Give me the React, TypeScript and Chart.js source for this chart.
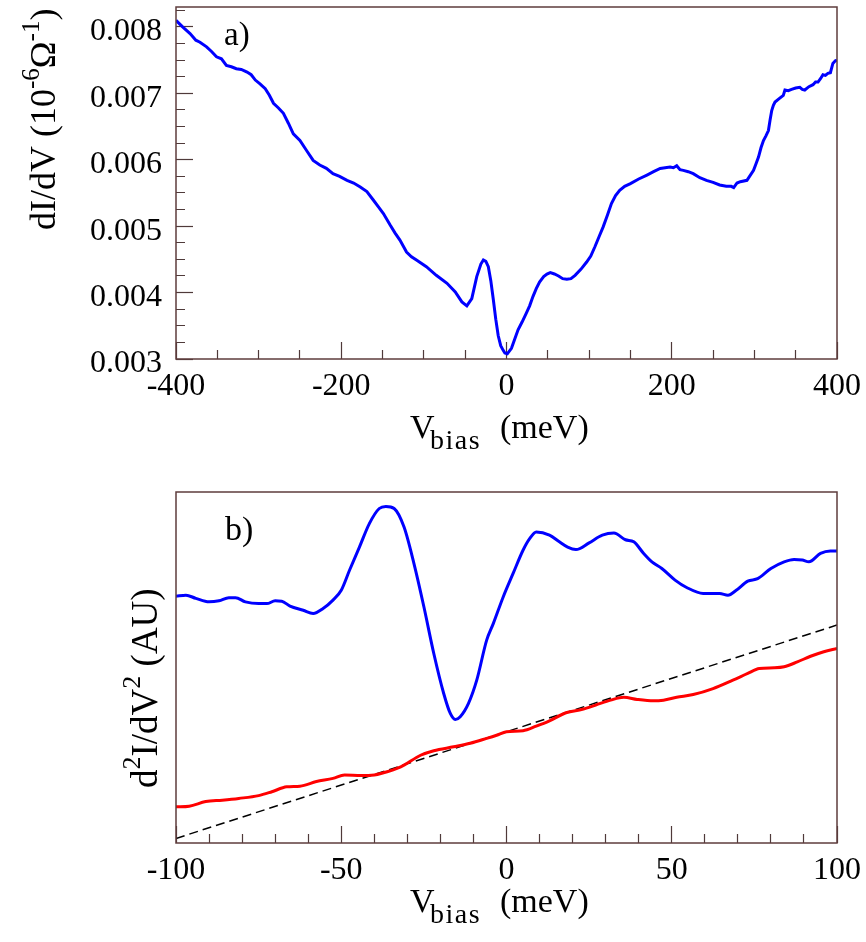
import React, { useEffect, useRef } from 'react';
import { Chart, registerables } from 'chart.js';

Chart.register(...registerables);

const FONT = "'Liberation Serif', 'Times New Roman', serif";
const FRAME_COLOR = '#5e3c3c';
const TICK_COLOR = '#4f3a3a';

// ---------- Panel a: dI/dV vs V_bias ----------
const A_BIAS = [-400, -392, -383, -376, -371, -363, -357, -351, -345, -339, -333, -327, -321, -314, -309, -304, -298, -292, -287, -282, -276, -270, -264, -258, -250, -242, -234, -226, -218, -210, -202, -193, -185, -177, -169, -161, -155, -149, -141, -135, -129, -121, -115, -109, -97, -85, -72, -62, -54, -48, -42, -36, -31, -28, -25, -22, -19, -16, -13, -10, -7, -4, -2, 1, 3, 6, 10, 14, 19, 24, 28, 32, 36, 40, 45, 49, 53, 58, 63, 68, 73, 78, 83, 90, 97, 102, 107, 112, 117, 122, 127, 132, 137, 143, 150, 160, 170, 178, 186, 192, 198, 202, 206, 210, 214, 220, 226, 234, 242, 250, 258, 266, 272, 275, 279, 283, 291, 299, 302, 305, 308, 311, 314, 317, 319, 321, 323, 325, 330, 335, 337, 341, 345, 350, 355, 358, 361, 366, 371, 374, 377, 380, 383, 386, 389, 392, 395, 398, 400];
const A_DIDV = [0.00810, 0.00800, 0.00790, 0.00780, 0.00777, 0.00770, 0.00763, 0.00755, 0.00752, 0.00742, 0.00740, 0.00737, 0.00736, 0.00732, 0.00728, 0.00720, 0.00714, 0.00707, 0.00697, 0.00685, 0.00678, 0.00670, 0.00655, 0.00639, 0.00629, 0.00614, 0.00599, 0.00592, 0.00587, 0.00579, 0.00575, 0.00569, 0.00565, 0.00559, 0.00552, 0.00539, 0.00529, 0.00519, 0.00502, 0.00490, 0.00479, 0.00461, 0.00454, 0.00449, 0.00439, 0.00426, 0.00414, 0.00401, 0.00386, 0.00380, 0.00391, 0.00424, 0.00443, 0.00449, 0.00447, 0.00439, 0.00418, 0.00390, 0.00360, 0.00335, 0.00320, 0.00313, 0.00309, 0.00308, 0.00311, 0.00316, 0.00330, 0.00344, 0.00356, 0.00369, 0.00380, 0.00394, 0.00406, 0.00416, 0.00424, 0.00428, 0.00430, 0.00428, 0.00425, 0.00421, 0.00420, 0.00421, 0.00426, 0.00435, 0.00446, 0.00455, 0.00469, 0.00484, 0.00499, 0.00516, 0.00534, 0.00546, 0.00554, 0.00560, 0.00564, 0.00571, 0.00577, 0.00582, 0.00587, 0.00588, 0.00589, 0.00588, 0.00591, 0.00585, 0.00584, 0.00582, 0.00579, 0.00573, 0.00569, 0.00566, 0.00562, 0.00560, 0.00560, 0.00558, 0.00565, 0.00567, 0.00569, 0.00584, 0.00594, 0.00604, 0.00618, 0.00629, 0.00636, 0.00644, 0.00660, 0.00674, 0.00682, 0.00687, 0.00692, 0.00697, 0.00705, 0.00704, 0.00706, 0.00708, 0.00709, 0.00706, 0.00705, 0.00710, 0.00713, 0.00717, 0.00717, 0.00722, 0.00728, 0.00727, 0.00730, 0.00731, 0.00745, 0.00749, 0.00750];

const A_X_TICKS = [-400, -350, -300, -250, -200, -150, -100, -50, 0, 50, 100, 150, 200, 250, 300, 350, 400];
const A_X_LABELS = [-400, -200, 0, 200, 400];
const A_Y_TICKS = [0.003, 0.00325, 0.0035, 0.00375, 0.004, 0.00425, 0.0045, 0.00475, 0.005, 0.00525, 0.0055, 0.00575, 0.006, 0.00625, 0.0065, 0.00675, 0.007, 0.00725, 0.0075, 0.00775, 0.008, 0.00825];
const A_Y_LABELS = [0.003, 0.004, 0.005, 0.006, 0.007, 0.008];

// ---------- Panel b: d2I/dV2 vs V_bias ----------
const B_BIAS_BLUE = [-100, -97, -94, -90, -87, -84, -82, -79, -75, -72.5, -70, -68, -65.5, -61.5, -58.5, -55.5, -52.5, -50, -47.5, -44.5, -41.5, -38.5, -36.5, -34, -31, -28, -25, -22, -19, -17, -15.5, -14, -11.5, -9, -6, -4, -1, 2, 5, 7, 9, 13, 16, 18.5, 21, 25, 29, 32.5, 36, 38.5, 41.5, 44, 47, 51, 54.5, 59.5, 64.5, 67, 69.5, 73, 76, 80, 84, 87, 89.5, 91.5, 95, 98, 100];
const B_BLUE = [70.3, 70.6, 69.7, 68.7, 69.0, 69.9, 69.9, 68.7, 68.2, 68.2, 69.0, 68.9, 67.5, 66.3, 65.4, 66.8, 69.2, 72.0, 77.7, 84.3, 91.0, 95.3, 95.9, 95.3, 90.0, 79.6, 67.3, 54.0, 42.6, 36.9, 35.2, 36.0, 39.8, 46.4, 57.8, 62.5, 70.1, 76.8, 83.4, 86.7, 88.6, 87.7, 85.8, 84.3, 83.6, 85.5, 87.7, 88.3, 86.4, 85.8, 82.5, 80.1, 78.2, 74.9, 72.8, 71.1, 71.1, 70.6, 72.0, 74.6, 75.3, 78.2, 80.1, 80.8, 80.6, 80.1, 82.5, 83.2, 83.2];

const B_BIAS_RED = [-100, -96, -91, -86, -81, -75, -71, -66.5, -62.5, -57.5, -52.5, -49, -44, -40, -38, -32, -26, -22, -16, -11, -6, -3, 0, 5, 9, 13, 18, 23, 27, 31.5, 35.5, 39.5, 44.5, 47.5, 51.5, 56.5, 62.5, 68.5, 73, 76.5, 81, 84, 88, 92, 96, 100];
const B_RED = [10.3, 10.5, 11.8, 12.2, 12.7, 13.5, 14.6, 16.0, 16.2, 17.5, 18.4, 19.4, 19.2, 19.4, 19.8, 21.7, 25.0, 26.3, 27.4, 28.4, 29.8, 30.7, 31.7, 32.0, 33.3, 34.8, 37.1, 38.1, 39.3, 40.7, 41.5, 40.9, 40.5, 40.7, 41.5, 42.3, 44.0, 46.4, 48.3, 49.7, 49.9, 50.2, 51.6, 53.2, 54.5, 55.4];

const B_FIT_BIAS = [-100, 100];
const B_FIT = [1.3, 62.1];

const B_X_TICKS = [-100, -90, -80, -70, -60, -50, -40, -30, -20, -10, 0, 10, 20, 30, 40, 50, 60, 70, 80, 90, 100];
const B_X_LABELS = [-100, -50, 0, 50, 100];

function zip(xs: number[], ys: number[]) {
  return xs.map((x, i) => ({ x, y: ys[i] }));
}

function near(list: number[], v: number) {
  return list.some((l) => Math.abs(l - v) < 1e-9);
}

function noPad(s: any) {
  s.paddingLeft = 0;
  s.paddingRight = 0;
  s.paddingTop = 0;
  s.paddingBottom = 0;
}

type Piece = { t: string; size: number; dy?: number; x?: number; ls?: number };

function drawPieces(ctx: CanvasRenderingContext2D, pieces: Piece[], x0: number, y0: number, rot = 0) {
  ctx.save();
  ctx.translate(x0, y0);
  if (rot) ctx.rotate(rot);
  ctx.fillStyle = '#000';
  ctx.textBaseline = 'alphabetic';
  ctx.textAlign = 'left';
  let x = 0;
  for (const p of pieces) {
    ctx.font = `${p.size}px ${FONT}`;
    (ctx as any).letterSpacing = (p.ls || 0) + 'px';
    if (p.x !== undefined) x = p.x;
    ctx.fillText(p.t, x, p.dy || 0);
    x += ctx.measureText(p.t).width;
  }
  ctx.restore();
}

const framePlugin = {
  id: 'frame',
  afterDraw(chart: any) {
    const { ctx, chartArea: a } = chart;
    ctx.save();
    ctx.strokeStyle = FRAME_COLOR;
    ctx.lineWidth = 1.5;
    ctx.strokeRect(a.left, a.top, a.right - a.left, a.bottom - a.top);
    ctx.restore();
  },
};

function xTitle(ctx: CanvasRenderingContext2D, baseline: number) {
  drawPieces(ctx, [
    { t: 'V', size: 34, x: 0 },
    { t: 'bias', size: 28, dy: 11, x: 20, ls: 1.5 },
    { t: '(meV)', size: 34, x: 90 },
  ], 410, baseline);
}

const textA = {
  id: 'textA',
  afterDraw(chart: any) {
    const ctx = chart.ctx as CanvasRenderingContext2D;
    xTitle(ctx, 438);
    drawPieces(ctx, [
      { t: 'dI/dV (10', size: 36 },
      { t: '-6', size: 25, dy: -16 },
      { t: '\u03A9', size: 36 },
      { t: '-1', size: 25, dy: -16 },
      { t: ')', size: 36 },
    ], 55, 230, -Math.PI / 2);
    drawPieces(ctx, [{ t: 'a)', size: 33 }], 224, 45);
  },
};

const textB = {
  id: 'textB',
  afterDraw(chart: any) {
    const ctx = chart.ctx as CanvasRenderingContext2D;
    xTitle(ctx, 442);
    drawPieces(ctx, [
      { t: 'd', size: 37 },
      { t: '2', size: 26, dy: -17 },
      { t: 'I/dV', size: 37 },
      { t: '2', size: 26, dy: -17 },
      { t: ' (AU)', size: 37 },
    ], 157, 318, -Math.PI / 2);
    drawPieces(ctx, [{ t: 'b)', size: 34 }], 225, 70);
  },
};

function xAxis(min: number, max: number, ticks: number[], labels: number[], height: number) {
  return {
    type: 'linear' as const,
    min,
    max,
    afterBuildTicks: (s: any) => {
      s.ticks = ticks.map((v) => ({ value: v }));
    },
    afterFit: (s: any) => {
      s.height = height;
      noPad(s);
    },
    border: { display: false },
    grid: {
      drawOnChartArea: false,
      drawTicks: true,
      tickLength: -17,
      tickColor: TICK_COLOR,
      tickWidth: 1.2,
      tickBorderDash: (c: any) => (c.tick && near(labels, c.tick.value) ? [] : [9, 100]),
    },
    ticks: {
      padding: 25,
      maxRotation: 0,
      autoSkip: false,
      color: '#000',
      font: { family: FONT, size: 32 },
      callback: (v: any) => (near(labels, Number(v)) ? String(v) : ''),
    },
  };
}

function PanelA() {
  const ref = useRef<HTMLCanvasElement>(null);
  useEffect(() => {
    const chart = new Chart(ref.current!, {
      type: 'line',
      data: {
        datasets: [
          {
            data: zip(A_BIAS, A_DIDV),
            borderColor: '#0000ff',
            borderWidth: 3,
            pointRadius: 0,
            tension: 0,
            fill: false,
          },
        ],
      },
      options: {
        animation: false,
        responsive: false,
        events: [],
        layout: { padding: { left: 0, right: 29, top: 7, bottom: 0 } },
        plugins: { legend: { display: false }, tooltip: { enabled: false } },
        scales: {
          x: xAxis(-400, 400, A_X_TICKS, A_X_LABELS, 111) as any,
          y: {
            type: 'linear',
            min: 0.003,
            max: 0.0083,
            afterBuildTicks: (s: any) => {
              s.ticks = A_Y_TICKS.map((v) => ({ value: v }));
            },
            afterFit: (s: any) => {
              s.width = 176;
              noPad(s);
            },
            border: { display: false },
            grid: {
              drawOnChartArea: false,
              drawTicks: true,
              tickLength: -17,
              tickColor: TICK_COLOR,
              tickWidth: 1.2,
              tickBorderDash: (c: any) => (c.tick && near(A_Y_LABELS, c.tick.value) ? [] : [0, 8, 9, 100]),
            },
            ticks: {
              padding: 31,
              labelOffset: 5,
              autoSkip: false,
              color: '#000',
              font: { family: FONT, size: 32 },
              callback: (v: any) => (near(A_Y_LABELS, Number(v)) ? Number(v).toFixed(3) : ''),
            },
          } as any,
        },
      },
      plugins: [framePlugin, textA],
    });
    return () => chart.destroy();
  }, []);
  return <canvas ref={ref} width={866} height={470} style={{ position: 'absolute', left: 0, top: 0 }} />;
}

function PanelB() {
  const ref = useRef<HTMLCanvasElement>(null);
  useEffect(() => {
    const chart = new Chart(ref.current!, {
      type: 'line',
      data: {
        datasets: [
          {
            data: zip(B_BIAS_BLUE, B_BLUE),
            borderColor: '#0000ff',
            borderWidth: 3,
            pointRadius: 0,
            cubicInterpolationMode: 'monotone',
            fill: false,
          },
          {
            data: zip(B_BIAS_RED, B_RED),
            borderColor: '#ff0000',
            borderWidth: 3,
            pointRadius: 0,
            cubicInterpolationMode: 'monotone',
            fill: false,
          },
          {
            data: zip(B_FIT_BIAS, B_FIT),
            borderColor: '#000000',
            borderWidth: 1.5,
            borderDash: [9, 5],
            pointRadius: 0,
            fill: false,
          },
        ],
      },
      options: {
        animation: false,
        responsive: false,
        events: [],
        layout: { padding: { left: 0, right: 29, top: 22, bottom: 0 } },
        plugins: { legend: { display: false }, tooltip: { enabled: false } },
        scales: {
          x: xAxis(-100, 100, B_X_TICKS, B_X_LABELS, 99) as any,
          y: {
            type: 'linear',
            min: 0,
            max: 100,
            afterFit: (s: any) => {
              s.width = 176;
              noPad(s);
            },
            border: { display: false },
            grid: { display: false, drawTicks: false },
            ticks: { display: false },
          } as any,
        },
      },
      plugins: [framePlugin, textB],
    });
    return () => chart.destroy();
  }, []);
  return <canvas ref={ref} width={866} height={472} style={{ position: 'absolute', left: 0, top: 470 }} />;
}

export default function App() {
  return (
    <div style={{ position: 'absolute', left: 0, top: 0, width: 866, height: 942, background: '#fff' }}>
      <PanelA />
      <PanelB />
    </div>
  );
}
